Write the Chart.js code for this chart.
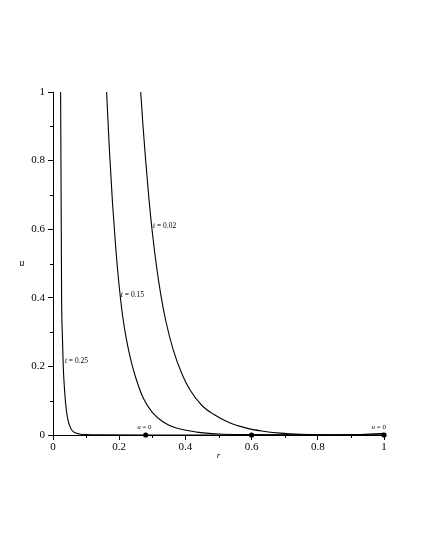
<!DOCTYPE html>
<html>
<head>
<meta charset="utf-8">
<script src="https://cdn.jsdelivr.net/npm/chart.js@4/dist/chart.umd.min.js"></script>
<style>
  html,body{margin:0;padding:0;background:#fff;}
  canvas{display:block;}
</style>
</head>
<body>
<canvas id="c" width="425" height="550"></canvas>
<script>
// curves u(r) at three times
const r25 = [0.023, 0.024, 0.025, 0.026, 0.028, 0.031, 0.035, 0.040, 0.045, 0.050, 0.057, 0.066, 0.080, 0.100, 0.150, 0.300, 1.0];
const u25 = [1.0,   0.8,   0.6,   0.4,   0.3,   0.2,   0.13,  0.075, 0.045, 0.028, 0.014, 0.007, 0.003, 0.001, 0.0003, 0, 0];

const r15 = [0.162, 0.170, 0.180, 0.190, 0.200, 0.210, 0.222, 0.235, 0.250, 0.273, 0.300, 0.333, 0.370, 0.434, 0.500, 0.600, 0.700, 1.0];
const u15 = [1.0,   0.839, 0.673, 0.540, 0.433, 0.350, 0.278, 0.219, 0.167, 0.107, 0.066, 0.038, 0.021, 0.0085, 0.003, 0.001, 0.0003, 0];

const r02 = [0.265, 0.272, 0.280, 0.290, 0.300, 0.312, 0.325, 0.340, 0.363, 0.390, 0.414, 0.450, 0.484, 0.530, 0.585, 0.630, 0.686, 0.750, 0.850, 0.920, 1.0];
const u02 = [1.0,   0.90,  0.80,  0.687, 0.592, 0.497, 0.413, 0.336, 0.249, 0.177, 0.131, 0.086, 0.061, 0.037, 0.020, 0.0117, 0.0055, 0.0022, 0.0008, 0.001, 0.005];

// points where u = 0
const zeroR = [0.28, 0.6, 1.0];
const zeroU = [0, 0, 0];

// text labels placed at data coordinates
const curveLabels = [
  {text: '0.25', r: 0.036, u: 0.215},
  {text: '0.15', r: 0.205, u: 0.408},
  {text: '0.02', r: 0.302, u: 0.609}
];
const zeroLabels = [
  {r: 0.276, u: 0.024},
  {r: 0.984, u: 0.024}
];

const pts = (xs, ys) => xs.map((x, i) => ({x: x, y: ys[i]}));
const serif = '"Liberation Serif", "DejaVu Serif", serif';
const isMinor = v => Math.round(v * 10) % 2 !== 0;

const curve = (label, xs, ys) => ({
  label, data: pts(xs, ys), showLine: true, pointRadius: 0,
  borderColor: '#000', borderWidth: 1.1, cubicInterpolationMode: 'monotone'
});

const extras = {
  id: 'extras',
  afterDraw(chart){
    const ctx = chart.ctx, xs = chart.scales.x, ys = chart.scales.y, a = chart.chartArea;
    ctx.save();
    ctx.strokeStyle = '#000'; ctx.lineWidth = 1;
    // minor ticks (shorter)
    ys.ticks.forEach(t => {
      if(!isMinor(t.value)) return;
      const y = Math.round(ys.getPixelForValue(t.value)) + 0.5;
      ctx.beginPath(); ctx.moveTo(a.left - 3, y); ctx.lineTo(a.left, y); ctx.stroke();
    });
    xs.ticks.forEach(t => {
      if(!isMinor(t.value)) return;
      const x = Math.round(xs.getPixelForValue(t.value)) + 0.5;
      ctx.beginPath(); ctx.moveTo(x, a.bottom); ctx.lineTo(x, a.bottom + 3); ctx.stroke();
    });
    ctx.fillStyle = '#000';
    ctx.textBaseline = 'middle';
    // curve labels "t = ..."
    curveLabels.forEach(l => {
      let x = xs.getPixelForValue(l.r); const y = ys.getPixelForValue(l.u);
      ctx.textAlign = 'left';
      ctx.font = 'italic 7.5px ' + serif; ctx.fillText('t', x, y);
      x += ctx.measureText('t').width;
      ctx.font = '7.5px ' + serif; ctx.fillText(' = ' + l.text, x, y);
    });
    // "u = 0" labels
    zeroLabels.forEach(l => {
      const x = xs.getPixelForValue(l.r), y = ys.getPixelForValue(l.u);
      ctx.font = 'italic 7px ' + serif;
      const w1 = ctx.measureText('u').width;
      ctx.font = '7px ' + serif;
      const w2 = ctx.measureText(' = 0').width;
      const x0 = x - (w1 + w2) / 2;
      ctx.textAlign = 'left';
      ctx.font = 'italic 7px ' + serif; ctx.fillText('u', x0, y);
      ctx.font = '7px ' + serif; ctx.fillText(' = 0', x0 + w1, y);
    });
    // axis titles
    ctx.textAlign = 'center';
    ctx.font = 'italic 10px ' + serif;
    ctx.fillText('u', 22, (a.top + a.bottom) / 2);
    ctx.font = 'italic 9px ' + serif;
    ctx.fillText('r', (a.left + a.right) / 2, a.bottom + 21);
    ctx.restore();
  }
};

new Chart(document.getElementById('c'), {
  type: 'scatter',
  data: {
    datasets: [
      curve('t = 0.25', r25, u25),
      curve('t = 0.15', r15, u15),
      curve('t = 0.02', r02, u02),
      {
        label: 'u = 0', data: pts(zeroR, zeroU), showLine: false,
        pointRadius: 2.6, pointBackgroundColor: '#000', pointBorderColor: '#000', pointBorderWidth: 0
      }
    ]
  },
  options: {
    responsive: false,
    animation: false,
    events: [],
    clip: false,
    layout: {padding: {left: 0, top: 92, right: 41, bottom: 85}},
    plugins: {legend: {display: false}, tooltip: {enabled: false}},
    scales: {
      x: {
        type: 'linear', min: 0, max: 1,
        afterFit: s => { s.height = 30; },
        border: {display: true, color: '#000', width: 1},
        grid: {drawOnChartArea: false, tickLength: 5,
               tickColor: c => (c.tick && isMinor(c.tick.value)) ? 'rgba(0,0,0,0)' : '#000'},
        ticks: {stepSize: 0.1, padding: 1, color: '#000', maxRotation: 0, autoSkip: false,
                font: {family: serif, size: 11},
                callback: v => isMinor(v) ? '' : String(Math.round(v * 10) / 10)}
      },
      y: {
        type: 'linear', min: 0, max: 1,
        afterFit: s => { s.width = 53; },
        border: {display: true, color: '#000', width: 1},
        grid: {drawOnChartArea: false, tickLength: 5,
               tickColor: c => (c.tick && isMinor(c.tick.value)) ? 'rgba(0,0,0,0)' : '#000'},
        ticks: {stepSize: 0.1, padding: 3, color: '#000', autoSkip: false,
                font: {family: serif, size: 11},
                callback: v => isMinor(v) ? '' : String(Math.round(v * 10) / 10)}
      }
    }
  },
  plugins: [extras]
});
</script>
</body>
</html>
